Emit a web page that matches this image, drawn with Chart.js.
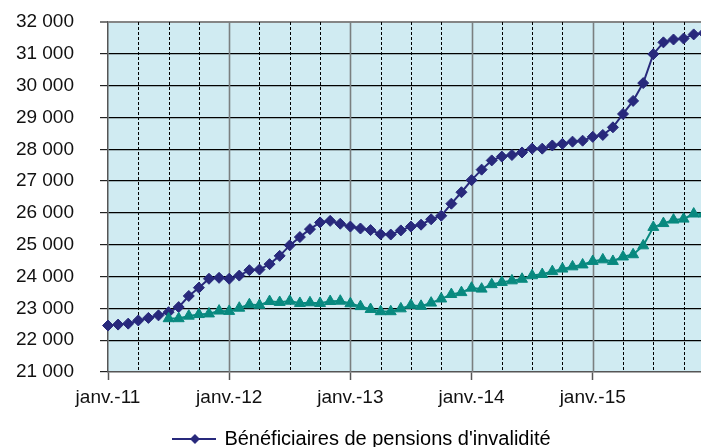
<!DOCTYPE html>
<html>
<head>
<meta charset="utf-8">
<script src="https://cdn.jsdelivr.net/npm/chart.js@4/dist/chart.umd.min.js"></script>
<style>
  html, body { margin: 0; padding: 0; overflow: hidden; background: #ffffff; }
  #wrap { width: 724px; height: 460px; }
</style>
</head>
<body>
<div id="wrap"><canvas id="chart" width="724" height="460"></canvas></div>
<script>
// Monthly series, January 2011 to December 2015
const monthNames = ['janv.', 'févr.', 'mars', 'avr.', 'mai', 'juin', 'juil.', 'août', 'sept.', 'oct.', 'nov.', 'déc.'];
const years = ['11', '12', '13', '14', '15'];

const pensionsInvalidite = [
  22460, 22490, 22520, 22620, 22700, 22780, 22880, 23040, 23390, 23650, 23930, 23960,
  23930, 24030, 24200, 24220, 24390, 24650, 24980, 25240, 25490, 25700, 25750, 25660,
  25570, 25510, 25460, 25330, 25320, 25450, 25570, 25630, 25800, 25910, 26290, 26650,
  27030, 27360, 27650, 27770, 27820, 27900, 28020, 28020, 28120, 28170, 28240, 28270,
  28390, 28450, 28690, 29110, 29520, 30080, 30990, 31360, 31450, 31480, 31610, 31650
];

const secondSeries = [
  null, null, null, null, null, null, 22680, 22680, 22760, 22810, 22830, 22920,
  22910, 23010, 23120, 23100, 23220, 23190, 23230, 23160, 23180, 23160, 23220, 23230,
  23150, 23060, 22970, 22900, 22900, 22990, 23100, 23070, 23170, 23300, 23440, 23500,
  23640, 23610, 23750, 23820, 23870, 23920, 24030, 24070, 24160, 24240, 24310, 24370,
  24480, 24530, 24480, 24620, 24690, 24970, 25550, 25670, 25780, 25810, 25970, 25970
];

const yMin = 21000;
const yMax = 32000;
const yStep = 1000;

// month labels; the x axis runs on month indices, labelled every January
const categories = [];
years.forEach(y => monthNames.forEach(m => categories.push(m + '-' + y)));
const monthIndex = categories.map((_, i) => i);

const NAVY = '#28297C';
const TEAL = '#08897F';
const FONT = { family: '"Liberation Sans", Arial, sans-serif', size: 19 };
const LEGEND_FONT = { family: '"Liberation Sans", Arial, sans-serif', size: 20 };

function formatThousands(v) {
  return String(v).replace(/\B(?=(\d{3})+(?!\d))/g, ' ');
}

// small line-with-diamond swatch for the legend
function lineSwatch(color) {
  const c = document.createElement('canvas');
  c.width = 44; c.height = 12;
  const g = c.getContext('2d');
  g.strokeStyle = color; g.lineWidth = 2;
  g.beginPath(); g.moveTo(0, 6); g.lineTo(44, 6); g.stroke();
  g.fillStyle = color;
  g.beginPath(); g.moveTo(23, 1); g.lineTo(28, 6); g.lineTo(23, 11); g.lineTo(18, 6); g.closePath(); g.fill();
  return c;
}

// plot background plus the quarterly (dashed) and yearly (solid) vertical rules
const plotFrame = {
  id: 'plotFrame',
  beforeDraw(chart) {
    const { ctx, chartArea: a } = chart;
    ctx.save();
    ctx.fillStyle = '#D0EBF2';
    ctx.fillRect(a.left, a.top, a.right - a.left, a.bottom - a.top);
    ctx.restore();
  },
  beforeDatasetsDraw(chart) {
    const { ctx, chartArea: a } = chart;
    const xs = chart.scales.x;
    ctx.save();
    for (let i = 3; i <= xs.max; i += 3) {
      const px = Math.round(xs.getPixelForValue(i)) + 0.5;
      ctx.beginPath();
      if (i % 12 === 0) {
        ctx.setLineDash([]);
        ctx.strokeStyle = '#7A7F80';
        ctx.lineWidth = 1.6;
      } else {
        ctx.setLineDash([3, 2]);
        ctx.strokeStyle = '#000000';
        ctx.lineWidth = 1;
      }
      ctx.moveTo(px, a.top);
      ctx.lineTo(px, a.bottom);
      ctx.stroke();
    }
    ctx.restore();
  }
};

new Chart(document.getElementById('chart'), {
  type: 'line',
  data: {
    labels: monthIndex,
    datasets: [
      {
        label: "Bénéficiaires de pensions d'invalidité",
        data: pensionsInvalidite,
        borderColor: NAVY,
        backgroundColor: NAVY,
        borderWidth: 2,
        pointStyle: 'rectRot',
        pointRadius: 5.5,
        pointBorderWidth: 1,
        pointBackgroundColor: NAVY,
        pointBorderColor: NAVY,
        tension: 0,
        order: 1,
        clip: 10
      },
      {
        label: '',
        data: secondSeries,
        borderColor: TEAL,
        backgroundColor: TEAL,
        borderWidth: 2,
        pointStyle: 'triangle',
        pointRadius: 6.3,
        pointBorderWidth: 1,
        pointBackgroundColor: TEAL,
        pointBorderColor: TEAL,
        tension: 0,
        spanGaps: false,
        order: 0,
        clip: 10
      }
    ]
  },
  options: {
    responsive: false,
    animation: false,
    devicePixelRatio: 1,
    layout: { autoPadding: false, padding: { left: 0, right: 0, top: 22, bottom: 1 } },
    plugins: {
      tooltip: { enabled: false },
      legend: {
        position: 'bottom',
        align: 'center',
        labels: {
          color: '#000000',
          font: LEGEND_FONT,
          padding: 10,
          usePointStyle: true,
          pointStyleWidth: 41,
          generateLabels: (chart) => [{
            text: chart.data.datasets[0].label,
            pointStyle: lineSwatch(NAVY),
            fillStyle: NAVY,
            strokeStyle: NAVY,
            lineWidth: 0,
            hidden: false,
            datasetIndex: 0,
            fontColor: '#000000'
          }]
        }
      }
    },
    scales: {
      x: {
        type: 'linear',
        min: 0,
        max: 61,
        grid: {
          drawOnChartArea: false,
          drawTicks: true,
          tickLength: 8,
          tickWidth: 1.5,
          tickColor: (ctx) => (ctx.tick && ctx.tick.value % 12 === 0 ? '#555555' : 'rgba(0,0,0,0)')
        },
        border: { color: '#555555', width: 1.5 },
        ticks: {
          stepSize: 12,
          autoSkip: false,
          maxRotation: 0,
          padding: 6,
          color: '#111111',
          font: FONT,
          callback: (v) => (v % 12 === 0 && categories[v] ? categories[v] : '')
        },
        afterFit: (s) => {
          s.height = 47;
          s.paddingLeft = 0;
          s.paddingRight = 0;
        }
      },
      y: {
        min: yMin,
        max: yMax,
        ticks: {
          stepSize: yStep,
          padding: 26,
          color: '#111111',
          font: FONT,
          callback: (v) => formatThousands(v)
        },
        grid: {
          color: (ctx) => {
            const v = ctx.tick && ctx.tick.value;
            if (v === yMax) return '#858585';
            if (v === yMin) return 'rgba(0,0,0,0)';
            return '#000000';
          },
          lineWidth: (ctx) => (ctx.tick && ctx.tick.value === yMax ? 2 : 1.2),
          tickLength: 8,
          tickColor: '#222222',
          tickWidth: 1.2
        },
        border: { color: '#555555', width: 1.5 },
        afterFit: (s) => {
          s.width = 108;
          s.paddingTop = 0;
          s.paddingBottom = 0;
        }
      }
    }
  },
  plugins: [plotFrame]
});
</script>
</body>
</html>
